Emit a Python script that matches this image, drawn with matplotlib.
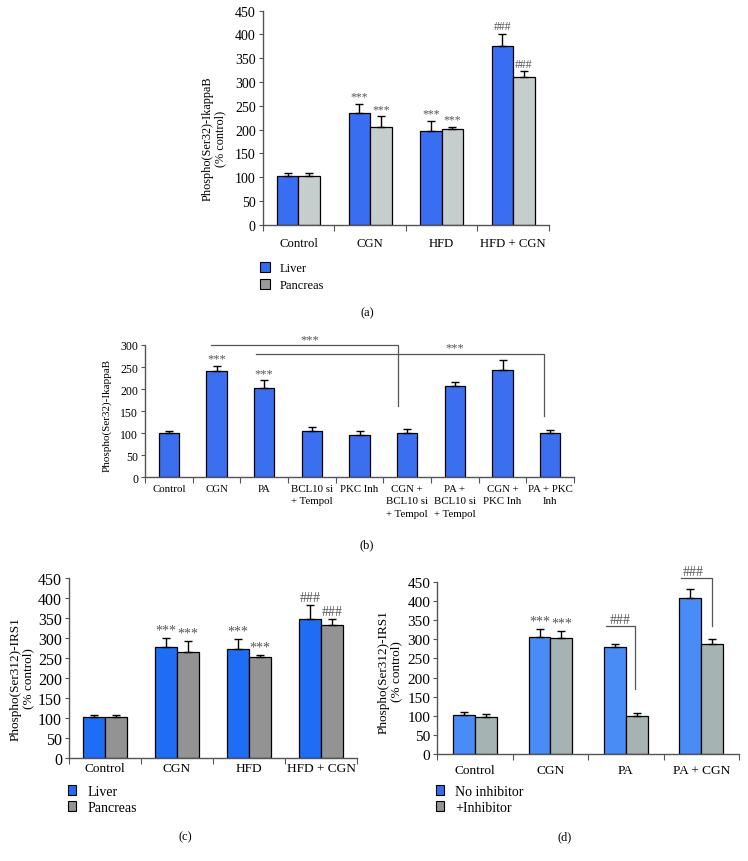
import numpy as np
import matplotlib.pyplot as plt
from matplotlib.patches import Patch

plt.rcParams['font.family'] = ['Liberation Serif', 'DejaVu Serif']

# ---- data ----
# (a) Phospho(Ser32)-IkappaB, liver vs pancreas
a_groups = ['Control', 'CGN', 'HFD', 'HFD + CGN']
a_liver = [103, 235, 196, 376]
a_liver_err = [6, 19, 22, 26]
a_panc = [103, 205, 201, 310]
a_panc_err = [6, 23, 4, 13]
a_liver_mark = ['', '***', '***', '###']
a_panc_mark = ['', '***', '***', '###']

# (b) Phospho(Ser32)-IkappaB, cell treatments
b_groups = ['Control', 'CGN', 'PA', 'BCL10 si\n+ Tempol', 'PKC Inh',
            'CGN +\nBCL10 si\n+ Tempol', 'PA +\nBCL10 si\n+ Tempol',
            'CGN +\nPKC Inh', 'PA + PKC\nInh']
b_vals = [101, 240, 202, 106, 96, 101, 208, 243, 100]
b_err = [3, 12, 18, 8, 8, 8, 8, 23, 7]
b_mark = ['', '***', '***', '', '', '', '', '', '']
# brackets: (x start, x end, level, drop to)
b_brackets = [(0.88, 4.8, 300, 161), (1.82, 7.87, 280, 138)]

# (c) Phospho(Ser312)-IRS1, liver vs pancreas
c_groups = ['Control', 'CGN', 'HFD', 'HFD + CGN']
c_liver = [102, 278, 272, 349]
c_liver_err = [6, 22, 25, 34]
c_panc = [102, 265, 254, 332]
c_panc_err = [6, 28, 4, 16]
c_liver_mark = ['', '***', '***', '###']
c_panc_mark = ['', '***', '***', '###']

# (d) Phospho(Ser312)-IRS1, inhibitor
d_groups = ['Control', 'CGN', 'PA', 'PA + CGN']
d_noinh = [103, 307, 279, 409]
d_noinh_err = [7, 21, 9, 23]
d_inh = [97, 304, 100, 288]
d_inh_err = [7, 18, 8, 12]
d_noinh_mark = ['', '***', '', '']
d_inh_mark = ['', '***', '', '']
d_brackets = [(1.74, 2.12, 334, 170), (2.73, 3.14, 460, 335)]

W, H = 748, 862
fig = plt.figure(figsize=(W / 100, H / 100), dpi=100)


def px(x):
    return x / W


def py(y):
    return 1 - y / H


def make_ax(x0, y0, x1, y1):
    return fig.add_axes([px(x0), py(y1), px(x1) - px(x0), py(y0) - py(y1)])


def style_ax(ax, groups, ymax, ystep, tsize, csize, cpad, lsp=1.2):
    n = len(groups)
    ax.set_xlim(-0.5, n - 0.5)
    ax.set_ylim(0, ymax)
    for s in ['top', 'right']:
        ax.spines[s].set_visible(False)
    for s in ['left', 'bottom']:
        ax.spines[s].set_color('#555555')
        ax.spines[s].set_linewidth(1.0)
    ax.set_yticks(np.arange(0, ymax + 1, ystep))
    ax.tick_params(axis='y', labelsize=tsize, length=3, color='#555555', pad=2)
    ax.set_xticks(np.arange(-0.5, n, 1.0))
    ax.set_xticklabels([])
    ax.tick_params(axis='x', which='major', length=4, color='#555555')
    ax.set_xticks(np.arange(n), minor=True)
    ax.set_xticklabels(groups, minor=True, fontsize=csize, linespacing=lsp)
    ax.tick_params(axis='x', which='minor', length=0, pad=cpad)


def pair_bars(ax, v1, e1, v2, e2, c1, c2, w, m1, m2, msize):
    x = np.arange(len(v1))
    ax.bar(x - w / 2, v1, w, color=c1, edgecolor='black', linewidth=0.9,
           yerr=[np.zeros(len(v1)), e1], capsize=3,
           error_kw=dict(elinewidth=1.0, capthick=1.0, ecolor='black'))
    ax.bar(x + w / 2, v2, w, color=c2, edgecolor='black', linewidth=0.9,
           yerr=[np.zeros(len(v2)), e2], capsize=3,
           error_kw=dict(elinewidth=1.0, capthick=1.0, ecolor='black'))
    for i in range(len(v1)):
        if m1[i]:
            ax.annotate(m1[i], (x[i] - w / 2, v1[i] + e1[i]), xytext=(0, 1),
                        textcoords='offset points', ha='center', va='bottom',
                        fontsize=msize, color='#555555')
        if m2[i]:
            ax.annotate(m2[i], (x[i] + w / 2, v2[i] + e2[i]), xytext=(0, 1),
                        textcoords='offset points', ha='center', va='bottom',
                        fontsize=msize, color='#555555')


def bracket(ax, x0, x1, level, drop, text, tx, tsize):
    ax.plot([x0, x1, x1], [level, level, drop], color='#555555', lw=0.9,
            clip_on=False)
    ax.annotate(text, (tx, level), xytext=(0, 0), textcoords='offset points',
                ha='center', va='bottom', fontsize=tsize, color='#555555',
                annotation_clip=False)


# ---- (a) ----
ax = make_ax(262.7, 11.7, 549, 225.7)
style_ax(ax, a_groups, 450, 50, 10, 9.2, 9)
pair_bars(ax, a_liver, a_liver_err, a_panc, a_panc_err, '#3a6ef2', '#c6cdcd',
          0.3, a_liver_mark, a_panc_mark, 8.5)
fig.text(px(214), py(139), 'Phospho(Ser32)-IkappaB\n(% control)', rotation=90,
         ha='center', va='center', fontsize=8.8, linespacing=1.1)
fig.legend(handles=[Patch(facecolor='#2f6cf2', edgecolor='black', lw=0.8, label='Liver'),
                    Patch(facecolor='#9a9a9a', edgecolor='black', lw=0.8, label='Pancreas')],
           loc='upper left', bbox_to_anchor=(px(260), py(263)), frameon=False,
           fontsize=9, handlelength=0.8, handleheight=0.9, handletextpad=0.8,
           borderpad=0, borderaxespad=0, labelspacing=0.35)
fig.text(px(367), py(313), '(a)', ha='center', va='center', fontsize=9)

# ---- (b) ----
ax = make_ax(145, 346, 574, 478.3)
style_ax(ax, b_groups, 300, 50, 8.5, 7.8, 5, 1.45)
xb = np.arange(len(b_vals))
ax.bar(xb, b_vals, 0.42, color='#3c6ef0', edgecolor='black', linewidth=0.9,
       yerr=[np.zeros(len(b_vals)), b_err], capsize=3,
       error_kw=dict(elinewidth=1.0, capthick=1.0, ecolor='black'))
for i in range(len(b_vals)):
    if b_mark[i]:
        ax.annotate(b_mark[i], (xb[i], b_vals[i] + b_err[i]), xytext=(0, 1),
                    textcoords='offset points', ha='center', va='bottom',
                    fontsize=9, color='#555555')
bracket(ax, *b_brackets[0], '***', 2.96, 9)
bracket(ax, *b_brackets[1], '***', 6.0, 9)
fig.text(px(107), py(416), 'Phospho(Ser32)-IkappaB', rotation=90,
         ha='center', va='center', fontsize=8)
fig.text(px(367), py(545), '(b)', ha='center', va='center', fontsize=9)

# ---- (c) ----
ax = make_ax(69, 579.3, 357, 759)
style_ax(ax, c_groups, 450, 50, 11.5, 9.6, 3)
pair_bars(ax, c_liver, c_liver_err, c_panc, c_panc_err, '#1f6cf5', '#939393',
          0.3, c_liver_mark, c_panc_mark, 10)
fig.text(px(22), py(679), 'Phospho(Ser312)-IRS1\n(% control)', rotation=90,
         ha='center', va='center', fontsize=9.5, linespacing=1.1)
fig.legend(handles=[Patch(facecolor='#1f6cf5', edgecolor='black', lw=0.8, label='Liver'),
                    Patch(facecolor='#939393', edgecolor='black', lw=0.8, label='Pancreas')],
           loc='upper left', bbox_to_anchor=(px(68), py(786)), frameon=False,
           fontsize=10, handlelength=0.6, handleheight=0.7, handletextpad=0.8,
           borderpad=0, borderaxespad=0, labelspacing=0.2)
fig.text(px(185), py(837), '(c)', ha='center', va='center', fontsize=9)

# ---- (d) ----
ax = make_ax(437.3, 583, 739, 755)
style_ax(ax, d_groups, 450, 50, 11, 9.6, 7)
pair_bars(ax, d_noinh, d_noinh_err, d_inh, d_inh_err, '#4a8cf5', '#a6b3b3',
          0.29, d_noinh_mark, d_inh_mark, 10)
bracket(ax, *d_brackets[0], '###', 1.92, 10)
bracket(ax, *d_brackets[1], '###', 2.90, 10)
fig.text(px(390), py(672), 'Phospho(Ser312)-IRS1\n(% control)', rotation=90,
         ha='center', va='center', fontsize=9.5, linespacing=1.1)
fig.legend(handles=[Patch(facecolor='#2f6cf2', edgecolor='black', lw=0.8, label='No inhibitor'),
                    Patch(facecolor='#939393', edgecolor='black', lw=0.8, label='+Inhibitor')],
           loc='upper left', bbox_to_anchor=(px(436), py(786)), frameon=False,
           fontsize=10, handlelength=0.6, handleheight=0.7, handletextpad=0.8,
           borderpad=0, borderaxespad=0, labelspacing=0.2)
fig.text(px(565), py(837), '(d)', ha='center', va='center', fontsize=9)

fig.savefig('out.png', dpi=100)
